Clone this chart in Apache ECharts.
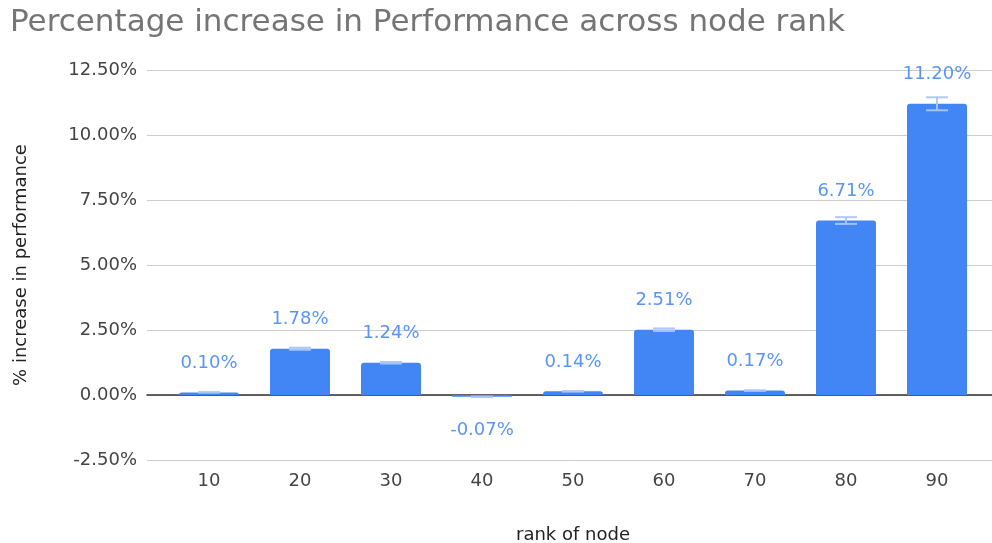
<!DOCTYPE html>
<html>
<head>
<meta charset="utf-8">
<script src="https://cdn.jsdelivr.net/npm/echarts@6/dist/echarts.min.js"></script>
<style>html,body{margin:0;padding:0;background:#fff}#c{width:992px;height:543px}</style>
</head>
<body>
<div id="c"></div>
<script>
const categories = ['10','20','30','40','50','60','70','80','90'];
const values = [0.10, 1.78, 1.24, -0.07, 0.14, 2.51, 0.17, 6.71, 11.20];
const errors = [0.01, 0.04, 0.03, 0.01, 0.01, 0.05, 0.01, 0.13, 0.25];
const yTicks = {min: -2.5, max: 12.5, interval: 2.5};

const FONT = 'DejaVu Sans';
const chart = echarts.init(document.getElementById('c'));
chart.setOption({
  animation: false,
  title: {
    text: 'Percentage increase in Performance across node rank',
    left: 5, top: 2,
    textStyle: {fontFamily: FONT, fontSize: 31, fontWeight: 'normal', color: '#757575'}
  },
  grid: [
    {left: 147, right: 0, top: 70, bottom: 83, outerBoundsMode: 'none', containLabel: false},
    {left: 163.5, right: 9.5, top: 70, bottom: 83, outerBoundsMode: 'none', containLabel: false}
  ],
  xAxis: [
    {gridIndex: 0, type: 'value', min: 0, max: 1, axisLabel: {show: false}, axisTick: {show: false},
     splitLine: {show: false}, axisLine: {show: true, onZero: true, lineStyle: {color: '#333', width: 1.5}}},
    {gridIndex: 1, type: 'category', data: categories,
     axisLine: {show: false}, axisTick: {show: false},
     axisLabel: {fontFamily: FONT, fontSize: 18, color: '#444', margin: 12},
     name: 'rank of node', nameLocation: 'middle', nameGap: 66,
     nameTextStyle: {fontFamily: FONT, fontSize: 18, color: '#222'}}
  ],
  yAxis: [
    {gridIndex: 0, type: 'value', min: yTicks.min, max: yTicks.max, interval: yTicks.interval,
     axisLine: {show: false}, axisTick: {show: false},
     axisLabel: {fontFamily: FONT, fontSize: 18, color: '#444', margin: 10,
       formatter: v => v.toFixed(2) + '%'},
     splitLine: {lineStyle: {color: '#cccccc', width: 1}},
     name: '% increase in performance', nameLocation: 'middle', nameGap: 117,
     nameTextStyle: {fontFamily: FONT, fontSize: 18, color: '#222'}},
    {gridIndex: 1, type: 'value', min: yTicks.min, max: yTicks.max, interval: yTicks.interval,
     show: false}
  ],
  series: [
    {
      type: 'bar', xAxisIndex: 1, yAxisIndex: 1, barWidth: 60,
      data: values.map(v => ({
        value: v,
        label: v < 0 ? {position: 'bottom', distance: 25} : {position: 'top'}
      })),
      itemStyle: {color: '#4285f4', borderRadius: [3, 3, 0, 0]},
      label: {show: true, distance: 20, fontFamily: FONT, fontSize: 18, color: '#5a95f5',
        formatter: p => p.value.toFixed(2) + '%'},
      z: 2
    },
    {
      type: 'custom', xAxisIndex: 1, yAxisIndex: 1, z: 3,
      data: values.map((v, i) => [i, v, errors[i]]),
      renderItem: function (params, api) {
        const i = api.value(0), v = api.value(1), e = api.value(2);
        const hi = api.coord([i, v + e]);
        const lo = api.coord([i, v - e]);
        const hw = 11;
        const style = {stroke: 'rgba(170,198,250,0.95)', lineWidth: 2};
        return {
          type: 'group',
          children: [
            {type: 'line', shape: {x1: hi[0], y1: hi[1], x2: lo[0], y2: lo[1]}, style: style},
            {type: 'line', shape: {x1: hi[0] - hw, y1: hi[1], x2: hi[0] + hw, y2: hi[1]}, style: style},
            {type: 'line', shape: {x1: lo[0] - hw, y1: lo[1], x2: lo[0] + hw, y2: lo[1]}, style: style}
          ]
        };
      }
    }
  ]
});
</script>
</body>
</html>
